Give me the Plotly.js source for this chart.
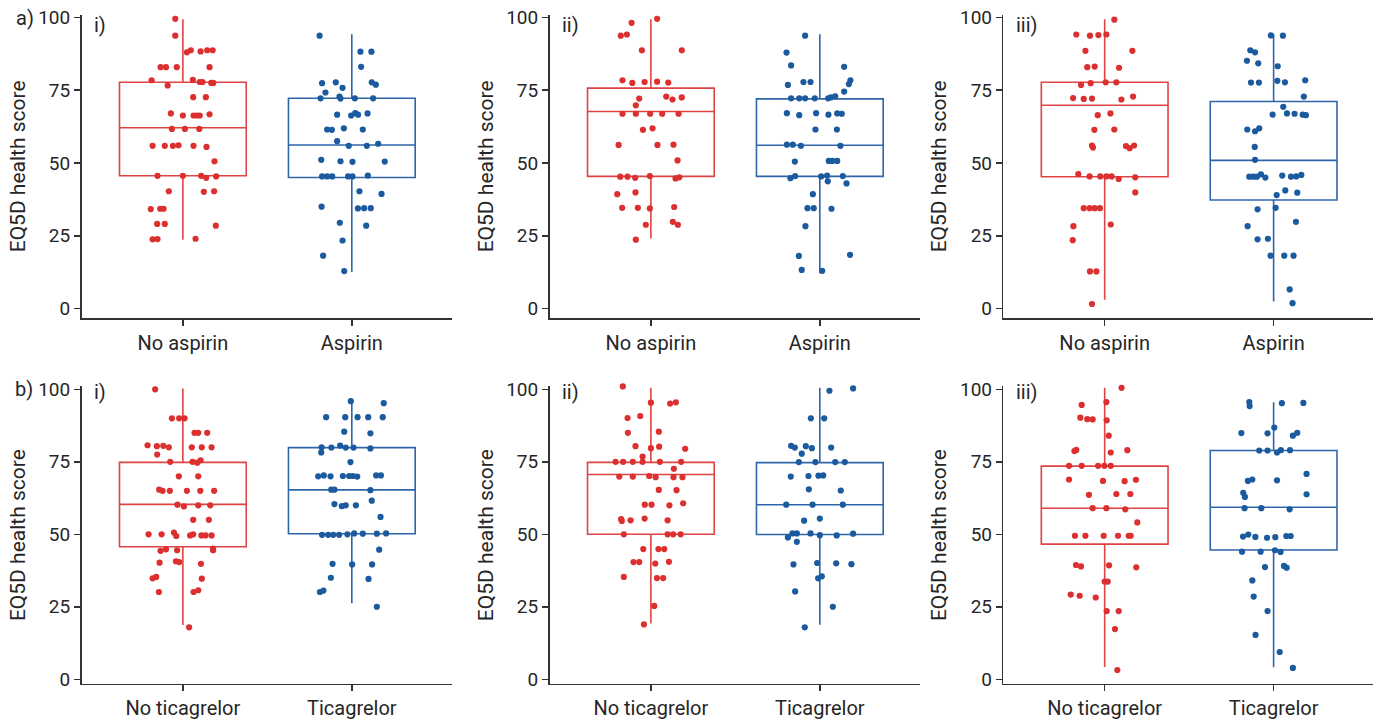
<!DOCTYPE html>
<html><head><meta charset="utf-8">
<script src="https://cdn.plot.ly/plotly-3.0.1.min.js"></script>
<style>html,body{margin:0;padding:0;background:#fff;}#chart{width:1379px;height:720px;}</style>
</head><body><div id="chart"></div>
<script>
// ---------- categories and ticks ----------
const aspirinCats = ['No aspirin', 'Aspirin'];
const ticagrelorCats = ['No ticagrelor', 'Ticagrelor'];
const yTicks = [0, 25, 50, 75, 100];
const panelTags = ['i)', 'ii)', 'iii)'];
const rowTags = ['a)', 'b)'];

// ---------- a) i) ----------
const a1NoY = [99.5,93.7,88.0,88.7,88.3,88.7,88.7,82.9,82.9,82.9,82.9,78.4,78.5,77.8,77.8,77.5,77.5,76.6,72.6,72.6,67.0,66.3,66.3,66.3,66.3,66.7,61.7,61.7,61.7,55.9,55.9,55.9,56.1,55.9,55.5,50.6,45.6,45.6,45.6,44.9,45.4,40.3,40.1,40.3,34.2,34.3,34.3,29.1,29.1,28.5,23.8,23.9,24.0];
const a1NoJ = [-0.045,-0.045,0.024,0.047,0.105,0.144,0.176,-0.132,-0.10,-0.036,0.158,-0.185,0.059,0.10,0.116,0.168,0.18,-0.09,0.061,0.136,-0.071,0,0.063,0.083,0.10,0.158,-0.065,0.012,0.097,-0.179,-0.107,-0.059,-0.026,0.063,0.14,0.187,-0.15,0,0.108,0.138,0.197,-0.083,0.124,0.185,-0.19,-0.134,-0.114,-0.152,-0.107,0.195,-0.179,-0.15,0.075];
const a1NoStats = [23.7, 45.6, 62.1, 77.7, 99.3];
const a1YesY = [93.7,88.2,88.2,83.0,77.4,77.7,77.7,76.9,74.2,75.8,72.2,72.8,72.1,72.2,72.2,66.6,66.3,67.1,66.6,67.0,61.5,61.4,61.9,61.5,57.5,55.9,55.9,56.6,51.1,50.6,50.4,50.5,45.4,45.4,45.4,45.4,45.4,45.7,40.3,39.4,35.0,34.4,34.5,34.5,29.5,28.5,23.4,18.2,12.9];
const a1YesJ = [-0.191,0.051,0.116,0.055,-0.176,-0.095,0.118,0.142,-0.156,-0.055,-0.185,-0.073,-0.067,0.018,0.126,-0.087,-0.004,0.02,0.037,0.093,-0.146,-0.118,-0.047,0.065,-0.087,-0.018,0.089,0.156,-0.181,-0.067,0.004,0.195,-0.176,-0.146,-0.116,-0.022,0.004,0.095,0.045,0.176,-0.179,0.036,0.073,0.112,-0.071,0.085,-0.055,-0.17,-0.045];
const a1YesStats = [12.6, 45.0, 56.2, 72.2, 94.2];

// ---------- a) ii) ----------
const a2NoY = [99.5,98.1,93.7,94.1,88.7,88.7,78.4,77.5,77.8,77.9,77.6,72.1,72.8,71.8,72.5,69.8,66.9,66.9,66.9,66.9,66.9,61.4,61.9,56.2,56.2,56.3,50.9,45.3,45.3,44.9,45.5,44.7,45.1,39.3,39.9,34.6,34.6,34.4,34.9,28.8,29.8,28.8,23.7];
const a2NoJ = [0.037,-0.114,-0.178,-0.142,-0.053,0.183,-0.168,-0.11,-0.037,0.037,0.103,-0.069,0.091,0.128,0.183,-0.089,-0.168,-0.089,-0.004,0.067,0.164,-0.047,0.01,-0.191,0.039,0.134,0.158,-0.181,-0.138,-0.093,-0.006,0.146,0.168,-0.199,-0.091,-0.17,-0.077,-0.006,0.138,-0.03,0.13,0.16,-0.089];
const a2NoStats = [24.1, 45.4, 67.7, 75.7, 99.3];
const a2YesY = [93.7,87.9,83.5,83.0,76.8,77.8,77.8,77.1,78.4,74.5,72.2,72.2,72.2,72.2,72.2,72.5,72.9,67.1,66.4,67.1,66.6,67.0,66.9,61.5,61.5,56.3,56.3,55.9,55.9,50.5,50.7,50.7,50.7,44.8,45.5,45.4,45.7,43.7,45.5,43.0,39.3,34.5,34.5,34.3,28.3,18.1,18.5,13.3,13.0];
const a2YesJ = [-0.087,-0.197,-0.17,0.144,-0.189,-0.097,-0.055,0.172,0.181,0.144,-0.17,-0.122,-0.087,-0.03,0.049,0.065,0.091,-0.195,-0.122,-0.022,0.051,0.103,0.13,-0.026,0.101,-0.195,-0.16,-0.112,0.122,-0.148,0.053,0.075,0.103,-0.174,-0.146,0.008,0.043,0.047,0.136,0.158,-0.041,-0.073,-0.036,0.069,-0.085,-0.124,0.179,-0.107,0.014];
const a2YesStats = [12.2, 45.4, 56.1, 72.0, 94.2];

// ---------- a) iii) ----------
const a3NoY = [99.2,94.1,93.7,93.9,94.1,88.5,88.5,82.9,83.1,82.7,76.8,77.4,77.7,77.7,72.3,72.0,72.1,71.8,72.8,66.4,67.0,61.4,61.5,56.0,55.3,55.8,55.1,56.0,46.2,45.4,45.4,45.4,45.4,44.5,45.1,39.9,34.5,34.5,34.5,34.5,28.9,28.3,23.5,12.8,12.8,1.6];
const a3NoJ = [0.057,-0.168,-0.087,-0.037,0.01,-0.114,0.164,-0.103,-0.059,0.085,-0.14,-0.083,0.006,0.069,-0.187,-0.124,-0.075,0.099,0.168,-0.041,0.034,-0.061,0.057,-0.075,-0.069,0.126,0.148,0.174,-0.156,-0.089,-0.026,0.01,0.041,0.083,0.181,0.181,-0.124,-0.089,-0.059,-0.028,0.036,-0.185,-0.189,-0.087,-0.049,-0.075];
const a3NoStats = [3.1, 45.3, 69.8, 77.7, 99.3];
const a3YesY = [93.8,93.7,88.7,88.0,85.1,84.2,83.2,77.6,77.6,78.2,77.7,78.4,72.8,69.3,66.6,67.0,66.9,66.6,66.4,61.5,60.9,61.9,55.5,51.1,45.3,45.3,45.3,46.1,45.0,45.7,45.3,45.4,45.9,40.6,39.0,39.8,34.1,34.6,29.8,28.3,23.8,24.0,18.2,18.2,18.2,6.6,1.9];
const a3YesJ = [-0.016,0.055,-0.138,-0.11,-0.158,-0.091,0.024,-0.134,-0.087,0.022,0.067,0.187,0.179,0.057,-0.006,0.079,0.124,0.172,0.191,-0.156,-0.11,-0.085,-0.112,-0.11,-0.144,-0.12,-0.099,-0.075,-0.049,0.051,0.103,0.134,0.164,0.069,0.018,0.14,-0.095,0.012,0.132,-0.154,-0.095,-0.034,-0.018,0.063,0.118,0.095,0.112];
const a3YesStats = [2.5, 37.3, 50.9, 71.1, 94.2];

// ---------- b) i) ----------
const b1NoY = [100,90,90,90,85,85,85,80.7,80.4,80.5,80,80,80,80,77.5,75,75,74.7,75.5,70,70,65.4,65,65,65,65,65,60.2,59.6,60,60,55,55,50,50,50.6,49.4,49.6,50,49.6,49.6,49.6,44.3,44.8,44.5,45.1,44.5,40.2,40.7,40.4,39.8,34.8,35.3,34.7,30.1,30.1,30.7,17.9];
const b1NoJ = [-0.164,-0.065,-0.022,0.01,0.069,0.091,0.144,-0.209,-0.154,-0.116,-0.083,0.053,0.112,0.17,-0.152,-0.075,0.057,0.085,0.105,-0.024,0.091,-0.14,-0.12,-0.077,0.024,0.103,0.185,-0.032,0.006,0.091,0.162,0.061,0.154,-0.203,-0.126,-0.053,-0.039,0.043,0.061,0.11,0.134,0.17,-0.132,-0.1,-0.034,0.178,0.179,-0.138,-0.041,-0.022,0.107,-0.179,-0.158,0.112,-0.142,0.063,0.091,0.037];
const b1NoStats = [18.7, 45.7, 60.3, 74.8, 100.3];
const b1YesY = [95.9,95.2,90.4,90.4,90.4,90.4,90.4,85.4,84.8,80,79.9,80.6,79.9,79.9,79.6,78.2,74.9,70,70.3,70,70.1,70.1,70.1,69.9,70.3,70.3,65.4,65.4,65.2,61.6,60.4,59.7,60,60,56,49.8,49.8,49.8,49.8,50,50.3,50.2,50.2,50.3,44.7,39.8,39.6,39.6,35,34.6,30.1,30.6,25];
const b1YesJ = [-0.006,0.189,-0.152,-0.039,0.034,0.097,0.183,-0.045,0.11,-0.179,-0.121,-0.069,-0.036,0.01,0.11,-0.181,-0.008,-0.199,-0.166,-0.126,-0.053,-0.016,0.006,0.032,0.144,0.172,-0.122,-0.103,0.11,0.118,-0.103,-0.059,-0.036,0.024,0.17,-0.176,-0.14,-0.11,-0.075,-0.026,0.014,0.065,0.148,0.203,0.162,-0.114,0.002,0.12,-0.124,0.099,-0.189,-0.168,0.148];
const b1YesStats = [26.2, 50.2, 65.3, 79.9, 95.4];

// ---------- b) ii) ----------
const b2NoY = [101,95.4,95.1,95.5,90.1,90.8,85,85.4,80.4,79.7,80.2,79.5,76.8,75,75,75,75,75,75,72.6,69.9,69.9,70.1,69.7,69.7,69.7,65.3,65.2,60.2,60.2,60,60.7,55.2,54.6,54.8,55.4,54.8,50,50,50,50,44.9,44.9,44.9,40.4,40.4,39.9,40.5,35.3,34.9,34.9,25.3,18.9];
const b2NoJ = [-0.166,0,0.114,0.148,-0.138,-0.063,-0.136,0.047,-0.091,0,0.049,0.203,-0.049,-0.209,-0.164,-0.107,-0.049,0.053,0.179,0.136,-0.187,-0.107,-0.01,0.028,0.134,0.187,0.047,0.152,-0.036,0.004,0.11,0.191,-0.176,-0.172,-0.12,-0.037,0.099,-0.16,0.099,0.132,0.176,-0.045,0.045,0.079,-0.103,-0.069,0.026,0.107,-0.16,0.036,0.073,0.02,-0.041];
const b2NoStats = [19.2, 50, 70.6, 74.8, 100.5];
const b2YesY = [100.3,99.5,90,90,80.5,79.9,80.4,79.7,79.9,77.8,74.9,74.9,74.9,74.9,69.9,70.1,70.2,70.3,65.5,65.1,60.2,60.2,60.2,55.4,54.7,50.3,50.3,50.3,49.7,49.6,50.2,48.9,47.4,39.6,40.1,40,39.7,34.8,35.5,30.3,25,17.9];
const b2YesJ = [0.197,0.057,-0.053,0.026,-0.17,-0.148,-0.083,-0.047,0.067,-0.107,-0.124,-0.026,0.091,0.148,-0.172,-0.067,-0.008,0.02,-0.065,0.124,-0.199,-0.043,0.136,0,-0.093,-0.162,-0.136,-0.055,0,0.1,0.197,-0.189,-0.136,-0.156,-0.016,0.097,0.187,-0.01,0.012,-0.146,0.077,-0.089];
const b2YesStats = [18.8, 49.9, 60.2, 74.7, 100.5];

// ---------- b) iii) ----------
const b3NoY = [100.5,95.6,94.6,90.2,89.7,89.6,89.3,84,78.7,79.1,78.2,79,73.6,73.6,73.6,73.6,73.6,68.9,68.4,68.3,68.8,63.6,63.9,63.9,59,59,58.6,54.1,49.5,49.5,49.5,49.5,49.5,49.5,39.4,38.9,39.3,38.6,33.7,33.7,29.2,28.8,28.2,23.5,23.5,17.3,3.2];
const b3NoJ = [0.1,0.01,-0.136,-0.144,-0.103,-0.071,0.012,0.024,-0.179,-0.168,0.036,0.134,-0.211,-0.136,-0.039,-0.002,0.036,-0.211,-0.01,0.118,0.185,-0.093,0.069,0.152,-0.071,0.01,0.122,0.193,-0.176,-0.114,-0.006,0.079,0.142,0.154,-0.17,-0.14,0.026,0.187,0,0.018,-0.201,-0.148,-0.053,0.012,0.083,0.061,0.075];
const b3NoStats = [4.2, 46.6, 59, 73.5, 100.5];
const b3YesY = [95.6,94.2,95.2,95.3,84.9,84.8,86.8,84,85,78.9,78.9,78.2,79,79,70.8,68.4,68.9,68.6,64.3,62.9,63.8,59,59,58.6,49.2,49.9,49.1,48.8,49,49.4,49.4,44,44,44.5,43.9,38.7,39.1,38.5,34.1,28.5,23.5,15.3,9.4,3.9];
const b3YesJ = [-0.144,-0.142,0.049,0.176,-0.191,-0.036,0.004,0.114,0.14,-0.085,-0.036,0.02,0.043,0.097,0.195,-0.152,-0.126,0.02,-0.18,-0.17,0.195,-0.172,-0.073,0.095,-0.181,-0.15,-0.108,-0.039,0.01,0.075,0.101,-0.187,-0.077,0.008,0.041,-0.051,0.061,0.077,-0.126,-0.118,-0.036,-0.107,0.036,0.114];
const b3YesStats = [4.1, 44.6, 59.3, 78.9, 95.5];

// ---------- styling / layout ----------
const W = 1379, H = 720;
const FONT = 'Roboto, "DejaVu Sans", sans-serif';
const TXT = '#262626';
const RED_DOT = '#dc2f2f', RED_BOX = '#e04343';
const BLUE_DOT = '#1b5a9e', BLUE_BOX = '#2f66aa';

const colLeft = [81.5, 549.5, 1003.3];
const colWidth = 370;
const rows = [
  {domain: [1 - 318 / H, 1 - 14.7 / H], range: [-3.2, 100.9], cats: aspirinCats},
  {domain: [1 - 683.9 / H, 1 - 386.4 / H], range: [-1.6, 101], cats: ticagrelorCats}
];
const groups = [
  [[a1NoY, a1NoJ, a1NoStats], [a1YesY, a1YesJ, a1YesStats]],
  [[a2NoY, a2NoJ, a2NoStats], [a2YesY, a2YesJ, a2YesStats]],
  [[a3NoY, a3NoJ, a3NoStats], [a3YesY, a3YesJ, a3YesStats]],
  [[b1NoY, b1NoJ, b1NoStats], [b1YesY, b1YesJ, b1YesStats]],
  [[b2NoY, b2NoJ, b2NoStats], [b2YesY, b2YesJ, b2YesStats]],
  [[b3NoY, b3NoJ, b3NoStats], [b3YesY, b3YesJ, b3YesStats]]
];

const traces = [];
const layout = {
  width: W, height: H, margin: {l: 0, r: 0, t: 0, b: 0},
  paper_bgcolor: '#fff', plot_bgcolor: '#fff', showlegend: false,
  font: {family: FONT, color: TXT, size: 19},
  annotations: []
};

for (let p = 0; p < 6; p++) {
  const r = Math.floor(p / 3), c = p % 3;
  const k = p === 0 ? '' : String(p + 1);
  const xa = 'x' + k, ya = 'y' + k;
  const row = rows[r];
  groups[p].forEach((g, gi) => {
    const [vals, jit, st] = g;
    const boxColor = gi === 0 ? RED_BOX : BLUE_BOX;
    const dotColor = gi === 0 ? RED_DOT : BLUE_DOT;
    traces.push({
      type: 'box', xaxis: xa, yaxis: ya, x: [gi],
      lowerfence: [st[0]], q1: [st[1]], median: [st[2]], q3: [st[3]], upperfence: [st[4]],
      width: 0.75, whiskerwidth: 0, boxpoints: false,
      fillcolor: 'rgba(0,0,0,0)', line: {color: boxColor, width: 1.6}, hoverinfo: 'skip'
    });
    traces.push({
      type: 'scatter', mode: 'markers', xaxis: xa, yaxis: ya,
      x: vals.map((v, i) => gi + jit[i]), y: vals, cliponaxis: false,
      marker: {color: dotColor, size: 6.2}, hoverinfo: 'skip'
    });
  });
  layout['xaxis' + k] = {
    domain: [colLeft[c] / W, (colLeft[c] + colWidth) / W], anchor: ya,
    range: [-0.6, 1.59], tickvals: [0, 1], ticktext: row.cats,
    ticks: 'outside', ticklen: 6, tickwidth: 1.5, tickcolor: '#333',
    showline: true, linecolor: '#333', linewidth: 1.5,
    showgrid: false, zeroline: false, fixedrange: true,
    tickfont: {size: 20, color: TXT, family: FONT}
  };
  layout['yaxis' + k] = {
    domain: row.domain, anchor: xa, range: row.range,
    tickvals: yTicks, ticks: 'outside', ticklen: 6, tickwidth: 1.5, tickcolor: '#333',
    showline: true, linecolor: '#333', linewidth: 1.5,
    showgrid: false, zeroline: false, fixedrange: true,
    tickfont: {size: 19, color: TXT, family: FONT},
    title: {text: 'EQ5D health score', font: {size: 21, color: TXT, family: FONT}, standoff: 7}
  };
  const tagX = [92, 560, 1014][c];
  const tagY = r === 0 ? 25 : 392;
  layout.annotations.push({
    xref: 'paper', yref: 'paper', x: tagX / W, y: 1 - tagY / H,
    xanchor: 'left', yanchor: 'middle', showarrow: false,
    text: panelTags[c], font: {size: 20, color: TXT, family: FONT}
  });
}
rowTags.forEach((t, r) => {
  layout.annotations.push({
    xref: 'paper', yref: 'paper', x: (r === 0 ? 14 : 13) / W, y: 1 - (r === 0 ? 18 : 389) / H,
    xanchor: 'left', yanchor: 'middle', showarrow: false,
    text: t, font: {size: 20, color: TXT, family: FONT}
  });
});

Plotly.newPlot('chart', traces, layout, {displayModeBar: false, staticPlot: true});
</script>
</body></html>
